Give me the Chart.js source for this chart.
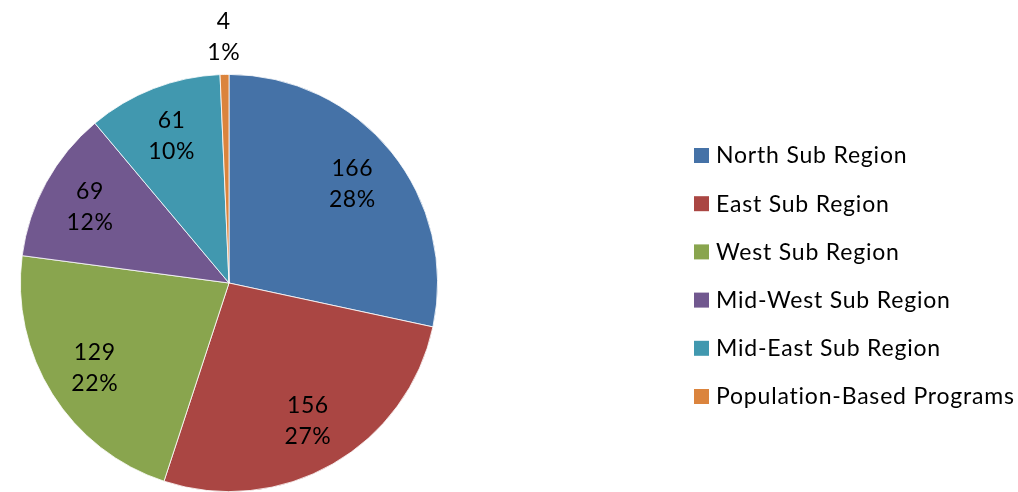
<!DOCTYPE html>
<html><head><meta charset="utf-8">
<style>html,body{margin:0;padding:0;background:#fff;overflow:hidden}#wrap{width:1018px;height:492px;position:relative}</style>
<script src="https://cdn.jsdelivr.net/npm/chart.js@4/dist/chart.umd.min.js"></script>
</head><body><div id="wrap"><canvas id="c"></canvas></div>
<script>
const categories = ["North Sub Region","East Sub Region","West Sub Region","Mid-West Sub Region","Mid-East Sub Region","Population-Based Programs"];
const values = [166,156,129,69,61,4];
const percentLabels = ["28%","27%","22%","12%","10%","1%"];
const colors = ["#4572A7","#AA4643","#89A54E","#71588F","#4198AF","#DB843D"];
const FONT = "Lato, 'Open Sans', sans-serif";

const labelPlugin = {
  id: 'sliceLabels',
  afterDatasetsDraw(chart) {
    const ctx = chart.ctx;
    const meta = chart.getDatasetMeta(0);
    const total = values.reduce((a,b)=>a+b,0);
    ctx.save();
    ctx.font = "23px " + FONT;
    try { ctx.letterSpacing = "0.6px"; } catch(e) {}
    ctx.fillStyle = "#000";
    ctx.textAlign = "center";
    ctx.textBaseline = "middle";
    meta.data.forEach((arc, i) => {
      const p = arc.getProps(['x','y','startAngle','endAngle','outerRadius'], true);
      const mid = (p.startAngle + p.endAngle) / 2;
      const frac = values[i] / total;
      const r = frac < 0.03 ? p.outerRadius * 1.18 : p.outerRadius * 0.76;
      const x = p.x + Math.cos(mid) * r;
      const y = p.y + Math.sin(mid) * r;
      ctx.fillText(String(values[i]), x, y - 15);
      ctx.fillText(percentLabels[i], x, y + 16);
    });
    ctx.restore();
  }
};

const legendPlugin = {
  id: 'customLegend',
  afterDraw(chart) {
    const ctx = chart.ctx;
    ctx.save();
    ctx.font = "23px " + FONT;
    try { ctx.letterSpacing = "0.8px"; } catch(e) {}
    ctx.textBaseline = "middle";
    ctx.textAlign = "left";
    categories.forEach((lab, i) => {
      const cy = 155 + i * 48.2;
      ctx.fillStyle = colors[i];
      ctx.fillRect(694, cy - 7, 15, 15);
      ctx.fillStyle = "#000";
      ctx.fillText(lab, 716, cy + 1);
    });
    ctx.restore();
  }
};

new Chart(document.getElementById('c'), {
  type: 'pie',
  data: {
    labels: categories,
    datasets: [{ data: values, backgroundColor: colors, borderColor: '#ffffff', borderWidth: 0.8 }]
  },
  options: {
    responsive: true,
    maintainAspectRatio: false,
    animation: false,
    layout: { padding: { left: 20, right: 580, top: 74, bottom: 0 } },
    plugins: { legend: { display: false }, tooltip: { enabled: false } }
  },
  plugins: [labelPlugin, legendPlugin]
});
</script></body></html>
